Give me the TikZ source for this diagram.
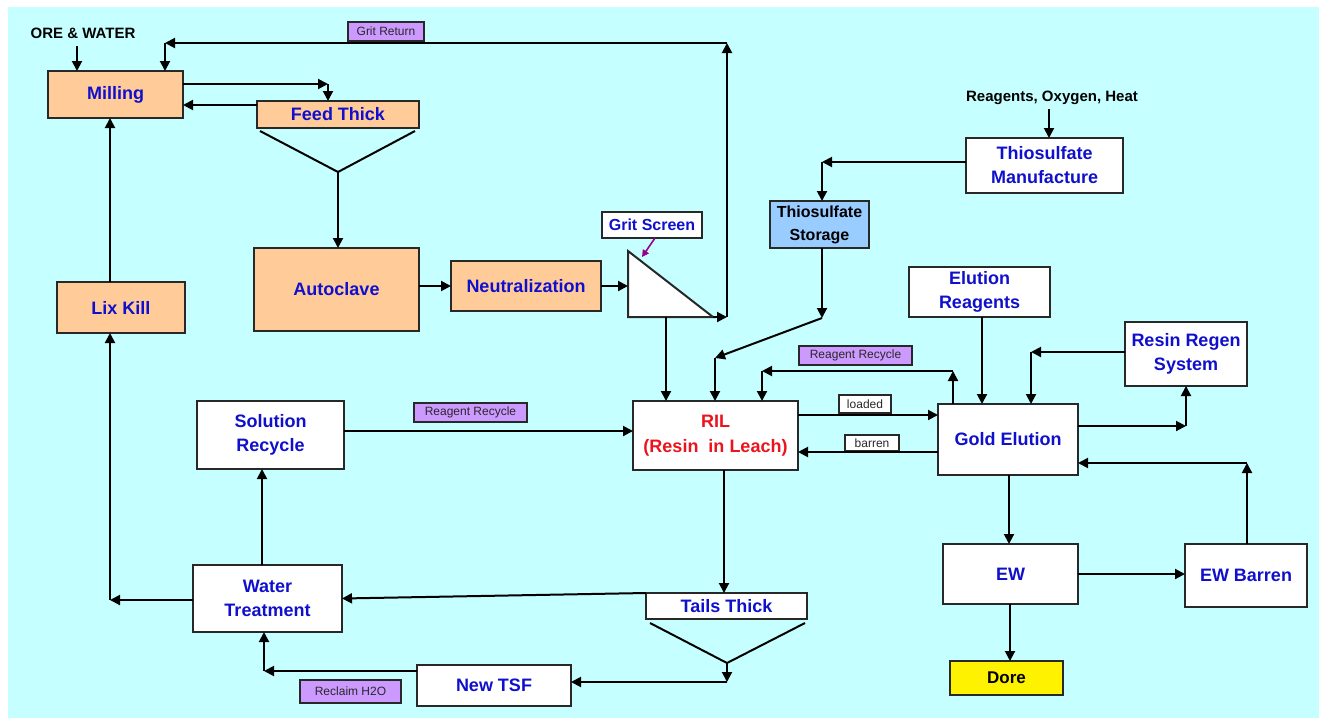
\documentclass[tikz,border=0pt]{standalone}
\usepackage{fontspec}
\setmainfont{Liberation Sans}
\usetikzlibrary{arrows.meta}
\definecolor{bgc}{RGB}{198,255,255}
\definecolor{peach}{RGB}{255,204,153}
\definecolor{txtblue}{RGB}{16,16,204}
\definecolor{lblpurple}{RGB}{204,153,255}
\definecolor{storblue}{RGB}{153,204,255}
\definecolor{edge}{RGB}{40,40,40}
\definecolor{arrowpurple}{RGB}{150,0,140}
\definecolor{rilred}{RGB}{235,20,30}
\tikzset{
  box/.style={draw=edge, line width=2pt, fill=white, inner sep=0pt, outer sep=0pt, align=center,
    text=txtblue, font=\bfseries\fontsize{18}{24}\selectfont},
  pbox/.style={box, fill=peach},
  lbl/.style={draw=edge, line width=1.5pt, fill=lblpurple, inner sep=0pt, outer sep=0pt,
    text=edge, font=\fontsize{12}{14}\selectfont},
  wlbl/.style={lbl, fill=white},
  plain/.style={inner sep=0pt, text=black, font=\bfseries\fontsize{15}{18}\selectfont},
  arr/.style={draw=black, line width=2pt, -{Triangle[length=10pt,width=10pt]}},
  ln/.style={draw=black, line width=2pt},
}
\begin{document}
\begin{tikzpicture}[x=1pt,y=-1pt]
\useasboundingbox (0,0) rectangle (1319,718);
\fill[bgc] (8,7) rectangle (1319,718);

% nodes
\node[pbox, minimum width=135, minimum height=47] (Milling) at (115.5,94.5) {Milling};
\node[pbox, minimum width=162, minimum height=27] (FeedThick) at (338,114.5) {Feed Thick};
\node[pbox, minimum width=165, minimum height=83] (Autoclave) at (336.5,289.5) {Autoclave};
\node[pbox, minimum width=128, minimum height=51] (LixKill) at (121,307.5) {Lix Kill};
\node[pbox, minimum width=150, minimum height=50] (Neutral) at (526,286) {Neutralization};
\node[box, fill=storblue, text=black, minimum width=99, minimum height=47,
  font=\bfseries\fontsize{16}{23}\selectfont] (ThioStor) at (819.5,224.5) {Thiosulfate\\Storage};
\node[box, minimum width=157, minimum height=55] (ThioMan) at (1044.5,165.5) {Thiosulfate\\Manufacture};
\node[box, minimum width=141, minimum height=50] (ElutReag) at (979.5,292) {Elution\\Reagents};
\node[box, minimum width=122, minimum height=64] (Regen) at (1186,354) {Resin Regen\\System};
\node[box, minimum width=140, minimum height=71] (Gold) at (1008,439.5) {Gold Elution};
\node[box, text=rilred, minimum width=165, minimum height=69,
  font=\bfseries\fontsize{18}{25}\selectfont] (RIL) at (715.5,435.5) {RIL\\(Resin\ \ in Leach)};
\node[box, minimum width=147, minimum height=68] (SolRec) at (270.5,435) {Solution\\Recycle};
\node[box, minimum width=149, minimum height=67] (WaterT) at (267.5,598.5) {Water\\Treatment};
\node[box, minimum width=161, minimum height=26] (TailsT) at (726.5,606) {Tails Thick};
\node[box, minimum width=154, minimum height=41] (NewTSF) at (494,685.5) {New TSF};
\node[box, minimum width=135, minimum height=60] (EW) at (1010.5,574) {EW};
\node[box, minimum width=122, minimum height=63] (EWB) at (1246,575.5) {EW Barren};
\node[box, fill=yellow, text=black, minimum width=113, minimum height=34,
  font=\bfseries\fontsize{17}{20}\selectfont] (Dore) at (1006.5,678) {Dore};
\node[box, minimum width=100, minimum height=26, font=\bfseries\fontsize{16}{19}\selectfont] (GritLbl) at (652,225) {Grit Screen};

% labels
\node[lbl, minimum width=76, minimum height=19] (GritRet) at (386,31.5) {Grit Return};
\node[lbl, minimum width=113, minimum height=19] (RR1) at (470.5,412.5) {Reagent Recycle};
\node[lbl, minimum width=113, minimum height=19] (RR2) at (855.5,355.5) {Reagent Recycle};
\node[wlbl, minimum width=52, minimum height=18] (Loaded) at (865,404) {loaded};
\node[wlbl, minimum width=54, minimum height=16] (Barren) at (872,443) {barren};
\node[lbl, minimum width=101, minimum height=23] (Reclaim) at (350.5,691.5) {Reclaim H2O};
\node[plain] (Ore) at (83,33) {ORE \& WATER};
\node[plain] (ROH) at (1052,98) {Reagents, Oxygen, Heat};

% grit screen triangle
\coordinate (t1) at (628,251);
\coordinate (t2) at (628,317);
\coordinate (t3) at (713,317);
\draw[draw=edge, line width=2pt, fill=white, line join=miter] (t1) -- (t2) -- (t3) -- cycle;

% feed thick funnel
\coordinate (f1) at (260,131);
\coordinate (f2) at (338,172);
\coordinate (f3) at (415,131);
\draw[ln] (f1) -- (f2) -- (f3);
% tails thick funnel
\coordinate (tf1) at (650,623);
\coordinate (tf2) at (727,663);
\coordinate (tf3) at (805,623);
\draw[ln] (tf1) -- (tf2) -- (tf3);

% connectors
\coordinate (o1) at (77,46);
\draw[arr] (o1) -- (o1 |- Milling.north);

\coordinate (gB) at (727,317);
\coordinate (gC) at (727,43);
\coordinate (gD) at (165,43);
\draw[arr] (t3) -- (gB);
\draw[arr] (gB) -- (gC);
\draw[arr] (gC) -- (gD);
\draw[arr] (gD) -- (gD |- Milling.north);

\coordinate (m1) at (183,84);
\coordinate (m2) at (328,84);
\draw[arr] (m1) -- (m2);
\draw[arr] (m2) -- (m2 |- FeedThick.north);
\coordinate (ft1) at (257,105);
\draw[arr] (ft1) -- (Milling.east |- ft1);

\draw[arr] (f2) -- (f2 |- Autoclave.north);
\draw[arr] (Autoclave.east |- Neutral.west) -- (Neutral.west);
\draw[arr] (Neutral.east) -- (Neutral.east -| t1);

\coordinate (gs1) at (655,238);
\coordinate (gs2) at (642,257);
\draw[draw=arrowpurple, line width=1.6pt, -{Triangle[length=7pt,width=7pt]}] (gs1) -- (gs2);

\coordinate (tb) at (666,317);
\draw[arr] (tb) -- (tb |- RIL.north);

\coordinate (tm1) at (822,162);
\draw[arr] (ThioMan.west |- tm1) -- (tm1);
\draw[arr] (tm1) -- (tm1 |- ThioStor.north);
\coordinate (r1) at (1049,109);
\draw[arr] (r1) -- (r1 |- ThioMan.north);

\coordinate (s2) at (822,318);
\coordinate (s3) at (715,358);
\draw[arr] (ThioStor.south -| s2) -- (s2);
\draw[arr] (s2) -- (s3);
\draw[arr] (s3) -- (s3 |- RIL.north);

\coordinate (er) at (982,0);
\draw[arr] (ElutReag.south -| er) -- (Gold.north -| er);

\coordinate (rg1) at (1031,352);
\draw[arr] (Regen.west |- rg1) -- (rg1);
\draw[arr] (rg1) -- (rg1 |- Gold.north);
\coordinate (rg2) at (1186,426);
\draw[arr] (Gold.east |- rg2) -- (rg2);
\draw[arr] (rg2) -- (Regen.south);

\coordinate (rr1) at (953,371);
\coordinate (rr2) at (762,371);
\draw[arr] (rr1 |- Gold.north) -- (rr1);
\draw[arr] (rr1) -- (rr2);
\draw[arr] (rr2) -- (rr2 |- RIL.north);

\coordinate (ld) at (0,415);
\draw[arr] (RIL.east |- ld) -- (Gold.west |- ld);
\coordinate (br) at (0,452);
\draw[arr] (Gold.west |- br) -- (RIL.east |- br);

\coordinate (sr) at (0,431);
\draw[arr] (SolRec.east |- sr) -- (RIL.west |- sr);

\coordinate (ws) at (262,0);
\draw[arr] (WaterT.north -| ws) -- (SolRec.south -| ws);
\coordinate (wl) at (110,600);
\draw[arr] (WaterT.west |- wl) -- (wl);
\draw[arr] (wl) -- (wl |- LixKill.south);
\draw[arr] (LixKill.north -| wl) -- (Milling.south -| wl);

\coordinate (rt) at (724,0);
\draw[arr] (RIL.south -| rt) -- (TailsT.north -| rt);
\draw[arr] (TailsT.north west) -- (WaterT.east);

\coordinate (tf4) at (727,682);
\draw[arr] (tf2) -- (tf4);
\draw[arr] (tf4) -- (NewTSF.east |- tf4);
\coordinate (nw) at (264,671);
\draw[arr] (NewTSF.west |- nw) -- (nw);
\draw[arr] (nw) -- (nw |- WaterT.south);

\coordinate (ge) at (1009,0);
\draw[arr] (Gold.south -| ge) -- (EW.north -| ge);
\draw[arr] (EW.east) -- (EW.east -| EWB.west);
\coordinate (eb) at (1247,463);
\draw[arr] (EWB.north -| eb) -- (eb);
\draw[arr] (eb) -- (Gold.east |- eb);
\coordinate (ed) at (1010,0);
\draw[arr] (EW.south -| ed) -- (Dore.north -| ed);
\end{tikzpicture}
\end{document}
